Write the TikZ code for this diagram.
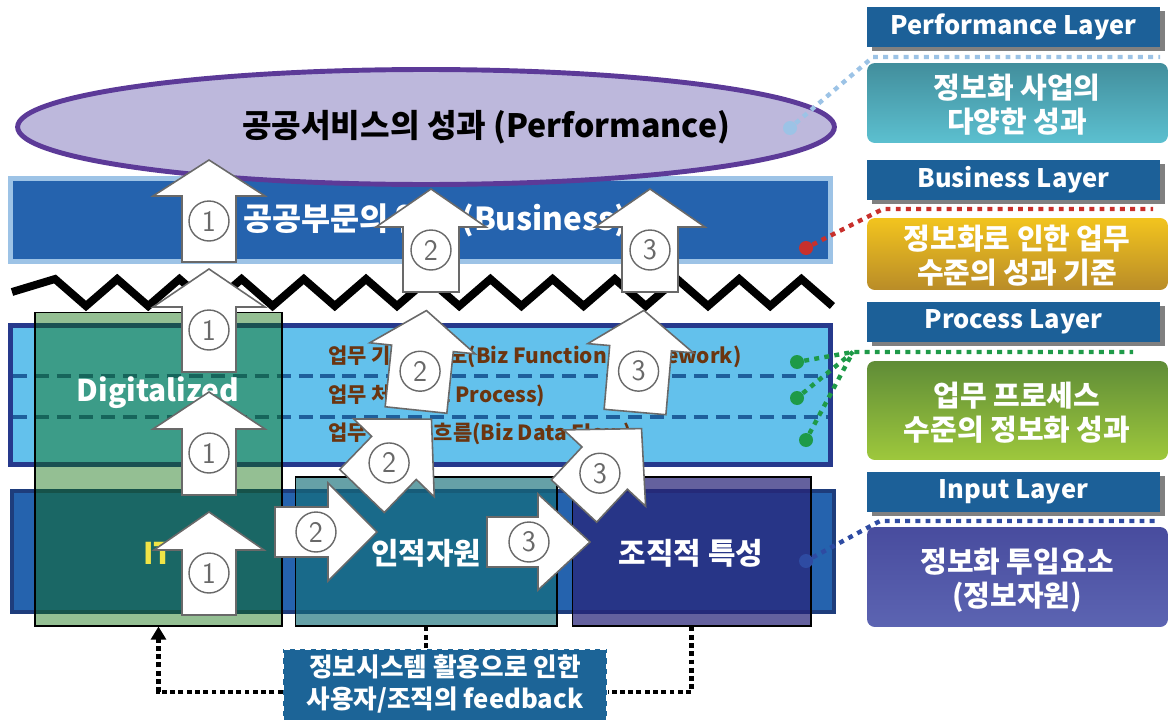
\documentclass[tikz,border=0pt]{standalone}
\usepackage{fontspec}
\setmainfont{Noto Sans CJK KR}
\usetikzlibrary{shapes.geometric,arrows.meta,shadows}
\definecolor{ellfill}{RGB}{189,184,220}
\definecolor{ellline}{RGB}{92,58,152}
\definecolor{bizline}{RGB}{157,195,230}
\definecolor{bandblue}{RGB}{37,99,174}
\definecolor{procline}{RGB}{38,57,140}
\definecolor{procfill}{RGB}{99,193,236}
\definecolor{dashblue}{RGB}{30,95,156}
\definecolor{inpline}{RGB}{30,61,124}
\definecolor{biztext}{RGB}{107,53,16}
\definecolor{digfill}{RGB}{12,110,10}
\definecolor{humfill}{RGB}{20,110,120}
\definecolor{orgfill}{RGB}{40,36,120}
\definecolor{fbfill}{RGB}{28,100,151}
\definecolor{arrgray}{RGB}{105,105,105}
\definecolor{hdrblue}{RGB}{28,96,152}
\definecolor{perfdot}{RGB}{156,195,230}
\definecolor{bizred}{RGB}{200,48,44}
\definecolor{procgreen}{RGB}{30,154,72}
\definecolor{inpblue}{RGB}{46,75,162}
\definecolor{ityellow}{RGB}{240,228,70}
\tikzset{
	band/.style={line width=2.8pt},
	unit/.style={draw=black,line width=0.6pt,inner sep=0pt},
	unittext/.style={text=white,font=\bfseries\fontsize{17}{17}\selectfont},
	proctext/.style={anchor=west,text=biztext,font=\bfseries\fontsize{11.9}{11.9}\selectfont},
	fbline/.style={line width=2.8pt,dash pattern=on 2.8pt off 1.9pt},
	dotline/.style={line width=2.5pt,dash pattern=on 2.8pt off 3pt},
	laydot/.style={circle,inner sep=0pt,minimum size=0.28cm},
	hdr/.style={fill=hdrblue,text=white,minimum width=5.86cm,minimum height=0.8cm,inner sep=0pt,
		drop shadow={shadow xshift=0.1cm,shadow yshift=-0.08cm,fill=gray,opacity=1},
		font=\bfseries\fontsize{14.5}{14.5}\selectfont},
	panel/.style={rounded corners=4.5pt,minimum width=6.02cm,inner sep=0pt},
	paneltext/.style={text=white,align=center,font=\bfseries\fontsize{16.5}{19.3}\selectfont},
	blockarrow/.style={fill=white,draw=arrgray,line width=0.9pt},
	numcirc/.style={circle,draw=arrgray,line width=0.8pt,minimum size=0.8cm,inner sep=0pt,
		text=arrgray,font=\fontsize{17}{17}\sffamily}
}
\begin{document}
\begin{tikzpicture}[x=0.02cm,y=-0.02cm,line join=miter]
	\useasboundingbox (0,0) rectangle (1173,720);
	% business band and performance ellipse
	\draw[band,draw=bizline,fill=bandblue] (10.5,178.5) rectangle (830.5,261.5);
	\node[ellipse,draw=ellline,fill=ellfill,line width=2.8pt,minimum width=16.34cm,minimum height=2.3cm] (perf) at (426,127) {};
	\node[anchor=west,font=\bfseries\fontsize{18.3}{18.3}\selectfont] (perftext) at (236,127) {공공서비스의 성과 (Performance)};
	\node[anchor=west,text=white,font=\bfseries\fontsize{18}{18}\selectfont] (biztext) at (237,220) {공공부문의 업무 (Business)};
	% zigzag break
	\draw[line width=4.5pt] (12,292) \foreach \k in {0,...,12}{ -- ({55+62.2*\k},279) -- ({86+62.2*\k},306)};
	% process band
	\draw[band,draw=procline,fill=procfill] (10.5,325.5) rectangle (830.5,464.5);
	\draw[dashblue,line width=2pt,dash pattern=on 8pt off 4.5pt] (13,376) -- (828,376);
	\draw[dashblue,line width=2pt,dash pattern=on 8pt off 4.5pt] (13,417) -- (828,417);
	\node[proctext] (func) at (322,357) {업무 기능체계도(Biz Function Framework)};
	\node[proctext] (proc) at (322,396) {업무 처리(Biz Process)};
	\node[proctext] (data) at (322,434) {업무 데이터 흐름(Biz Data Flow)};
	% input band
	\draw[line width=2.3pt,draw=inpline,fill=bandblue] (12,491) rectangle (834,612);
	% units
	\node[unit,fill=digfill,fill opacity=0.44,minimum width=4.94cm,minimum height=6.28cm] (digit) at (158.5,469) {};
	\node[unit,fill=humfill,fill opacity=0.65,minimum width=5.24cm,minimum height=2.98cm] (human) at (426,551.5) {};
	\node[unit,fill=orgfill,fill opacity=0.72,minimum width=4.78cm,minimum height=2.98cm] (org) at (691.5,551.5) {};
	\node[unittext] (digtext) at (158,393) {Digitalized};
	\node[unittext,text=ityellow] (ittext) at (158,553) {IT};
	\node[unittext] (humtext) at (426,553) {인적자원};
	\node[unittext] (orgtext) at (691,553) {조직적 특성};
	% feedback
	\node[fill=fbfill,draw=white,dashed,line width=0.6pt,minimum width=6.48cm,minimum height=1.72cm] (fback) at (445,692) {};
	\node[text=white,align=center,font=\bfseries\fontsize{14.6}{18}\selectfont] (fbtext) at (445,684) {정보시스템 활용으로 인한\\사용자/조직의 feedback};
	\draw[fbline] (human.south) -- (human.south |- fback.north);
	\draw[fbline] (org.south) |- (fback.east);
	\draw[fbline,-{Triangle[width=8.5pt,length=7.5pt]}] (fback.west) -| (digit.south);
	% layer markers
	\node[laydot,fill=perfdot] (dotperf) at (790,128) {};
	\node[laydot,fill=bizred] (dotbiz) at (806,248) {};
	\node[laydot,fill=procgreen] (dotfunc) at (797,362) {};
	\node[laydot,fill=procgreen] (dotproc) at (797,398) {};
	\node[laydot,fill=procgreen] (dotdata) at (806,440) {};
	\node[laydot,fill=inpblue] (dotinp) at (806,561) {};
	\path
	(873,57)coordinate(perfbend)
	(1160,57)coordinate(perfend)
	(883,209)coordinate(bizbend)
	(1153,209)coordinate(bizend)
	(853,352)coordinate(procbend)
	(1133,352)coordinate(procend)
	(880,521)coordinate(inpbend)
	(1155,521)coordinate(inpend)
	;
	\draw[dotline,perfdot] (dotperf)--(perfbend)--(perfend);
	\draw[dotline,bizred] (dotbiz)--(bizbend)--(bizend);
	\draw[dotline,procgreen] (dotfunc)--(procbend)--(procend);
	\draw[dotline,procgreen] (dotproc)--(procbend);
	\draw[dotline,procgreen] (dotdata)--(procbend);
	\draw[dotline,inpblue] (dotinp)--(inpbend)--(inpend);
	% layer panels
	\foreach \n/\y/\t in {perf/27/Performance,biz/180/Business,proc/322/Process,inp/492/Input}
		\node[hdr] (hdr\n) at (1013.5,\y) {\t\ Layer};
	\node[panel,minimum height=1.6cm,top color={rgb,255:red,66;green,142;blue,156},bottom color={rgb,255:red,92;green,192;blue,208}] (boxperf) at (1017.5,103) {};
	\node[panel,minimum height=1.44cm,top color={rgb,255:red,242;green,196;blue,30},bottom color={rgb,255:red,185;green,140;blue,40}] (boxbiz) at (1017.5,254) {};
	\node[panel,minimum height=1.98cm,top color={rgb,255:red,95;green,140;blue,55},bottom color={rgb,255:red,158;green,200;blue,60}] (boxproc) at (1017.5,410.5) {};
	\node[panel,minimum height=2cm,top color={rgb,255:red,72;green,76;blue,158},bottom color={rgb,255:red,92;green,100;blue,178}] (boxinp) at (1017.5,577) {};
	\node[paneltext] (txtperf) at (1017,105) {정보화 사업의\\다양한 성과};
	\node[paneltext] (txtbiz) at (1017,256) {정보화로 인한 업무\\수준의 성과 기준};
	\node[paneltext] (txtproc) at (1017,413) {업무 프로세스\\수준의 정보화 성과};
	\node[paneltext] (txtinp) at (1017,580) {정보화 투입요소\\(정보자원)};
	% block arrows
	\foreach \a/\tx/\ty/\ang/\len/\hl/\hw/\sw/\num in {1a/209/615/90/103/38/55/27/1,1b/209/495/90/103/37/56/27/1,1c/209/372/90/103/38/56/27/1,1d/209/262/90/102/36/56/27/1,2a/275/532/0/102/49/49/25/2,2b/362/491/46/100/54/56/31/2,2c/416/410/84/100/38/53/31/2,2d/431/292/90/103/38/55/28/2,3a/487/542/0/103/52/48/25/3,3b/574/501/47/99/54/56/31/3,3c/635/412/85/102/38/53/31/3,3d/650/292/90/103/38/55/28/3}{
		\begin{scope}[shift={(\tx,\ty)},rotate=\ang]
			\draw[blockarrow] (0,-\sw)--(\len-\hl,-\sw)--(\len-\hl,-\hw)--(\len,0)--(\len-\hl,\hw)--(\len-\hl,\sw)--(0,\sw)--cycle;
			\node[numcirc] (c\a) at (\len-61,0) {\num};
		\end{scope}
	}
\end{tikzpicture}
\end{document}
